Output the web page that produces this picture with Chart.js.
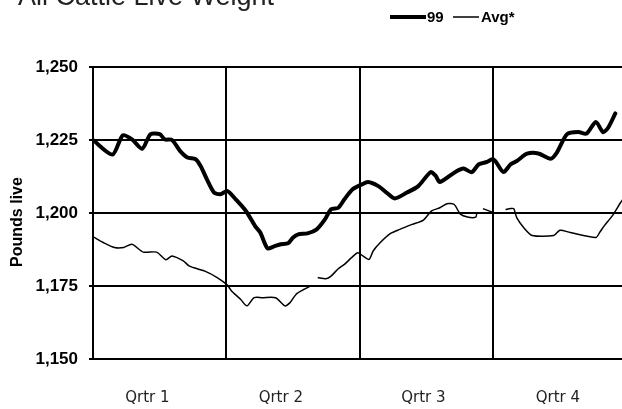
<!DOCTYPE html>
<html>
<head>
<meta charset="utf-8">
<script src="https://cdn.jsdelivr.net/npm/chart.js@4.4.0/dist/chart.umd.min.js"></script>
<style>
  html, body { margin: 0; padding: 0; background: #fff; overflow: hidden; }
</style>
</head>
<body>
<canvas id="grafico" width="622" height="409"></canvas>
<script>
// Datos (x = semana del año, 13 semanas por trimestre)
const titulo = 'All Cattle Live Weight';
const tituloEjeY = 'Pounds live';
const trimestres = ['Qrtr 1', 'Qrtr 2', 'Qrtr 3', 'Qrtr 4'];
const posTrimestres = [5.3, 18.3, 32.2, 45.3];
const cortesTrimestre = [0, 13, 26, 39];
const ticksY = [1150, 1175, 1200, 1225, 1250];

// Serie "99" (línea gruesa)
const semanas99 = [0, 1.9, 2.9, 3.8, 4.8, 5.6, 6.5, 7.0, 7.7, 8.5, 9.2, 10.0, 10.5, 11.1, 11.8, 12.4, 13.1,
    13.9, 14.9, 15.8, 16.3, 17.0, 17.6, 18.3, 19.0, 19.5, 20.0, 20.9, 21.8, 22.6, 23.2, 23.9, 24.5, 25.3,
    26.2, 26.8, 27.8, 28.6, 29.4, 30.6, 31.7, 32.9, 33.4, 33.8, 35.2, 36.1, 36.9, 37.6, 38.4, 38.9,
    39.2, 40.0, 40.7, 41.3, 42.3, 43.4, 44.6, 45.2, 46.2, 47.3, 48.1, 49.0, 49.7, 50.2, 50.9];
const peso99 = [1225, 1220, 1226.6, 1225.2, 1222, 1227, 1227, 1225.2, 1225, 1221.2, 1219, 1218.4, 1216, 1211.5, 1207, 1206.4, 1207.5,
    1204.7, 1200.7, 1195.5, 1193.3, 1187.9, 1188.5, 1189.3, 1189.6, 1191.6, 1192.7, 1193, 1194.4, 1197.8, 1201.3, 1201.8, 1204.7, 1208.1,
    1209.8, 1210.6, 1209.2, 1207, 1205, 1207, 1209.2, 1214, 1212.7, 1210.6, 1213.8, 1215.2, 1214, 1216.7, 1217.5, 1218.4,
    1217.8, 1214, 1216.7, 1217.8, 1220.3, 1220.4, 1218.6, 1220.7, 1227, 1227.7, 1227.2, 1231.2, 1227.7, 1229.2, 1234.1];

// Serie "Avg*" (línea fina, null = hueco)
const semanasAvg = [0, 1.0, 2.1, 3.0, 3.8, 4.9, 6.2, 7.1, 7.7, 8.8, 9.4, 10.9, 12.1, 13.1, 13.5, 14.4, 15.0,
    15.7, 16.5, 17.8, 18.7, 19.2, 19.8, 20.6, 21.2, 21.5,
    21.9, 22.7, 23.2, 23.9, 24.5, 25.2, 25.8, 26.3, 26.9, 27.3, 28.0, 29.0, 29.9, 31.1, 32.2, 33.0, 33.8,
    34.5, 35.2, 35.8, 36.5, 37.3, 37.4, 37.7,
    38.0, 38.9, 39.5,
    40.2, 40.7, 41.0, 41.3, 42.0, 42.8, 44.9, 45.5, 46.5, 49.0, 49.4, 49.8, 50.6, 51.4, 51.9];
const pesoAvg = [1191.9, 1189.9, 1188.2, 1188.2, 1189.3, 1186.6, 1186.6, 1184, 1185.3, 1183.6, 1181.8, 1180.1, 1177.9, 1175.3, 1173.3, 1170.4, 1168.2,
    1171, 1171, 1171, 1168.2, 1169.3, 1172.2, 1173.9, 1175, null,
    1177.9, 1177.5, 1178.4, 1180.9, 1182.4, 1184.7, 1186.4, 1185.3, 1184.1, 1187, 1189.9, 1193, 1194.4, 1196.1, 1197.6, 1200.7, 1201.8,
    1203.2, 1202.9, 1199.6, 1198.6, 1198.6, 1200, null,
    1201.5, 1200.3, null,
    1201.2, 1201.5, 1201.5, 1198.3, 1194.9, 1192.3, 1192.3, 1194.1, 1193.3, 1191.6, 1193.5, 1195.5, 1199, 1203.5, 1206];

function puntos(xs, ys) {
    return xs.map((x, i) => ({ x: x, y: ys[i] }));
}

// Textos fuera del área: título, leyenda y título del eje Y
const textos = {
    id: 'textos',
    afterDraw(chart) {
        const ctx = chart.ctx;
        ctx.save();
        ctx.fillStyle = '#222';
        ctx.font = '27px "Liberation Sans", Arial, sans-serif';
        ctx.textBaseline = 'alphabetic';
        ctx.textAlign = 'left';
        ctx.fillText(titulo, 18, 5);

        // Leyenda
        ctx.strokeStyle = '#000';
        ctx.lineCap = 'butt';
        ctx.lineWidth = 4;
        ctx.beginPath(); ctx.moveTo(390, 17); ctx.lineTo(426, 17); ctx.stroke();
        ctx.lineWidth = 1.5;
        ctx.beginPath(); ctx.moveTo(453, 17); ctx.lineTo(479, 17); ctx.stroke();
        ctx.fillStyle = '#000';
        ctx.font = 'bold 15px "Liberation Sans", Arial, sans-serif';
        ctx.textBaseline = 'middle';
        ctx.fillText(chart.data.datasets[0].label, 427, 18);
        ctx.fillText(chart.data.datasets[1].label, 481, 18);

        // Título eje Y
        ctx.translate(18, 222);
        ctx.rotate(-Math.PI / 2);
        ctx.textAlign = 'center';
        ctx.font = 'bold 16px "Liberation Sans", Arial, sans-serif';
        ctx.fillText(tituloEjeY, 0, 0);
        ctx.restore();
    }
};

const grafico = new Chart(document.getElementById('grafico'), {
    type: 'line',
    data: {
        datasets: [{
            label: '99',
            data: puntos(semanas99, peso99),
            borderColor: '#000',
            borderWidth: 4,
            pointRadius: 0,
            tension: 0.25,
            borderJoinStyle: 'round',
            borderCapStyle: 'round'
        }, {
            label: 'Avg*',
            data: puntos(semanasAvg, pesoAvg),
            borderColor: '#000',
            borderWidth: 1.5,
            pointRadius: 0,
            tension: 0.25,
            spanGaps: false
        }]
    },
    options: {
        responsive: false,
        animation: false,
        layout: { padding: { top: 67, left: 0, right: 0, bottom: 0 } },
        plugins: {
            legend: { display: false },
            tooltip: { enabled: false }
        },
        scales: {
            x: {
                type: 'linear',
                min: 0,
                max: 51.55,
                position: 'bottom',
                afterBuildTicks: (s) => { s.ticks = posTrimestres.map(v => ({ value: v })); },
                afterFit: (s) => { s.height = 50; },
                ticks: {
                    callback: (v, i) => trimestres[i],
                    autoSkip: false,
                    maxRotation: 0,
                    padding: 22,
                    color: '#222',
                    font: { family: '"DejaVu Sans", sans-serif', size: 15 }
                },
                grid: { display: false },
                border: { display: false }
            },
            x2: {
                type: 'linear',
                min: 0,
                max: 51.55,
                position: 'bottom',
                afterBuildTicks: (s) => { s.ticks = cortesTrimestre.map(v => ({ value: v })); },
                afterFit: (s) => { s.height = 0; },
                ticks: { display: false },
                grid: { color: '#000', lineWidth: 2, drawTicks: false },
                border: { display: false }
            },
            y: {
                min: 1150,
                max: 1250,
                afterBuildTicks: (s) => { s.ticks = ticksY.map(v => ({ value: v })); },
                afterFit: (s) => { s.width = 93; },
                ticks: {
                    callback: (v) => v.toLocaleString('en-US'),
                    padding: 11,
                    color: '#000',
                    font: { family: '"Liberation Sans", Arial, sans-serif', size: 17, weight: 'bold' }
                },
                grid: { color: '#000', lineWidth: 2, tickLength: 4 },
                border: { color: '#000', width: 2 }
            }
        }
    },
    plugins: [textos]
});
</script>
</body>
</html>
